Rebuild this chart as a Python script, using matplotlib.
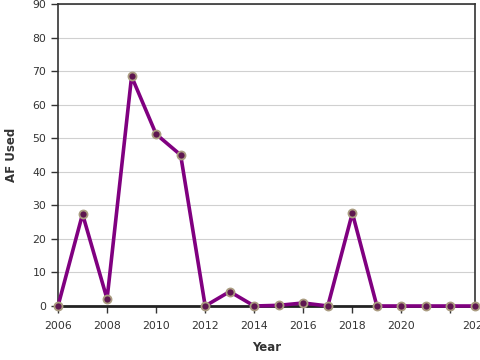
import matplotlib
matplotlib.use("Agg")
import matplotlib.pyplot as plt
import matplotlib.transforms as mtransforms

# data
years = [2006, 2007, 2008, 2009, 2010, 2011, 2012, 2013, 2014, 2015,
         2016, 2017, 2018, 2019, 2020, 2021, 2022, 2023]
af_used = [0, 27.4, 2.1, 68.4, 51.2, 45.0, 0, 4.3, 0, 0.2,
           0.9, 0, 27.7, 0, 0, 0, 0, 0]
x_ticks = [2006, 2008, 2010, 2012, 2014, 2016, 2018, 2020, 2022]
y_ticks = [0, 10, 20, 30, 40, 50, 60, 70, 80, 90]

fig = plt.figure(figsize=(4.8, 3.6), dpi=100)
ax = fig.add_axes([58 / 480, 1 - 306 / 360, (475 - 58) / 480, (306 - 4) / 360])

ax.plot(years, af_used, color="#800080", linewidth=2.6, zorder=3,
        marker="o", markersize=5.8, markerfacecolor="#5e1650",
        markeredgecolor="#aa9c80", markeredgewidth=1.3, clip_on=False)

ax.set_xlim(2006, 2023)
ax.set_ylim(0, 90)
ax.set_xticks(x_ticks)
ax.set_xticklabels([str(t) for t in x_ticks])
ax.set_yticks(y_ticks)

ax.grid(axis="y", color="#d0d0d0", linewidth=0.8)
ax.set_axisbelow(True)

for side in ["top", "right", "left"]:
    ax.spines[side].set_color("#333333")
    ax.spines[side].set_linewidth(1.2)
ax.spines["bottom"].set_color("#222222")
ax.spines["bottom"].set_linewidth(2)

ax.tick_params(axis="both", colors="#333333", labelsize=7.8, length=5, width=1)
ax.tick_params(axis="x", pad=6)

# last year label sits right of its tick in the reference, cut by the edge
lbl = ax.get_xticklabels()[-1]
lbl.set_transform(lbl.get_transform() +
                  mtransforms.ScaledTranslation(26 / 100, 0, fig.dpi_scale_trans))

ax.set_xlabel("Year", fontsize=8.5, fontweight="bold", color="#333333", labelpad=7)
ax.set_ylabel("AF Used", fontsize=8.5, fontweight="bold", color="#333333", labelpad=10)

fig.savefig("out.png", dpi=100)
